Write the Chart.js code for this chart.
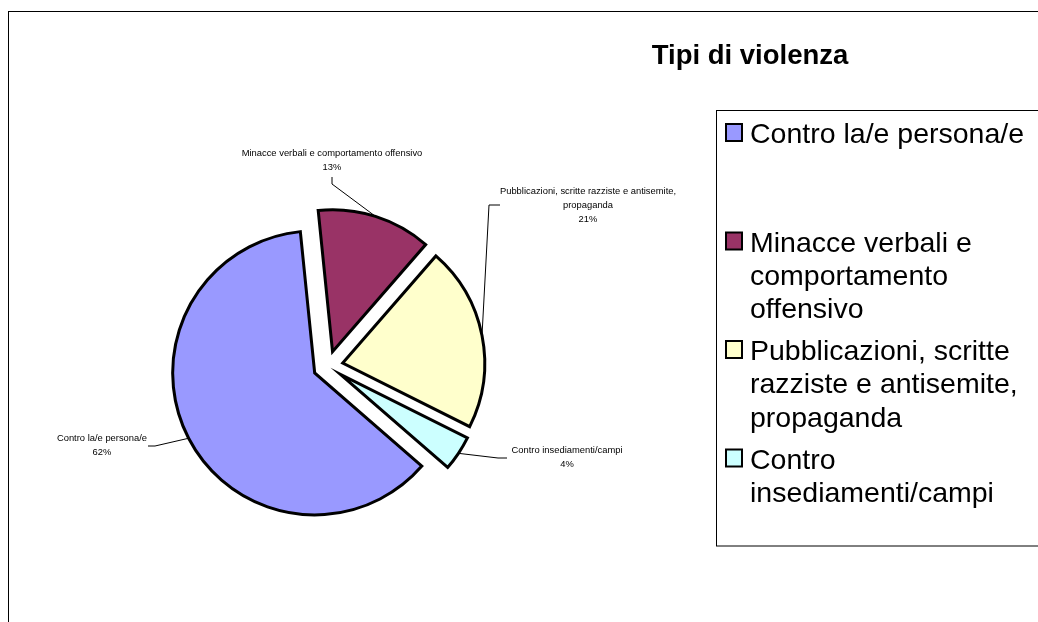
<!DOCTYPE html>
<html lang="it">
<head>
    <meta charset="UTF-8">
    <title>Tipi di violenza</title>
    <style>
        html, body { margin: 0; padding: 0; background: #fff; }
        #wrap { position: relative; width: 1038px; height: 622px; }
    </style>
</head>
<body>
    <div id="wrap"><canvas id="pieChart"></canvas></div>

    <script src="https://cdn.jsdelivr.net/npm/chart.js"></script>
    <script>
        const chartTitle = 'Tipi di violenza';
        const categories = [
            'Contro la/e persona/e',
            'Minacce verbali e comportamento offensivo',
            'Pubblicazioni, scritte razziste e antisemite, propaganda',
            'Contro insediamenti/campi'
        ];
        const shares = [62, 13, 21, 4];
        const sliceColors = ['#9999FF', '#993366', '#FFFFCC', '#CCFFFF'];

        const FONT = "'Liberation Sans', Arial, sans-serif";
        const explode = 15;   // how far each slice is pulled out, px

        // where each data label sits: text centre, then leader start + elbow
        const labelPos = [
            { x: 102, y: 438,   lead: [[148, 446], [155, 446]] },
            { x: 332, y: 153,   lead: [[332, 177], [332, 184]] },
            { x: 588, y: 191.5, lead: [[500, 205], [489, 205]] },
            { x: 567, y: 450,   lead: [[507, 458], [498, 458]] }
        ];

        function wrapText(ctx, text, maxW) {
            const words = text.split(' ');
            const lines = [];
            let cur = '';
            words.forEach(w => {
                const test = cur ? cur + ' ' + w : w;
                if (cur && ctx.measureText(test).width > maxW) {
                    lines.push(cur);
                    cur = w;
                } else {
                    cur = test;
                }
            });
            if (cur) lines.push(cur);
            return lines;
        }

        // Chart.js "offset" also grows the radius of big slices, so push them out by hand
        const explodedPie = {
            id: 'explodedPie',
            beforeDatasetDraw(chart, args) {
                const ctx = chart.ctx;
                args.meta.data.forEach(arc => {
                    const mid = (arc.startAngle + arc.endAngle) / 2;
                    ctx.save();
                    ctx.translate(Math.cos(mid) * explode, Math.sin(mid) * explode);
                    arc.draw(ctx);
                    ctx.restore();
                });
                return false;
            }
        };

        const sliceLabels = {
            id: 'sliceLabels',
            afterDatasetsDraw(chart) {
                const ctx = chart.ctx;
                const arcs = chart.getDatasetMeta(0).data;
                const total = shares.reduce((a, b) => a + b, 0);
                ctx.save();
                ctx.font = '9.4px ' + FONT;
                ctx.fillStyle = '#000';
                ctx.strokeStyle = '#000';
                ctx.lineWidth = 1;
                ctx.textAlign = 'center';
                ctx.textBaseline = 'middle';
                arcs.forEach((arc, i) => {
                    const p = labelPos[i];
                    const lines = wrapText(ctx, categories[i], 195);
                    lines.push(Math.round(shares[i] / total * 100) + '%');
                    lines.forEach((t, k) => ctx.fillText(t, p.x, p.y + k * 14.2));

                    const mid = (arc.startAngle + arc.endAngle) / 2;
                    const r = arc.outerRadius + explode;
                    ctx.beginPath();
                    ctx.moveTo(p.lead[0][0], p.lead[0][1]);
                    ctx.lineTo(p.lead[1][0], p.lead[1][1]);
                    ctx.lineTo(arc.x + Math.cos(mid) * r, arc.y + Math.sin(mid) * r);
                    ctx.stroke();
                });
                ctx.restore();
            }
        };

        // frame, title and the boxed legend on the right
        const sheetDecor = {
            id: 'sheetDecor',
            afterDraw(chart) {
                const ctx = chart.ctx;
                ctx.save();
                ctx.strokeStyle = '#000';
                ctx.lineWidth = 1;
                ctx.strokeRect(8.5, 11.5, 1200, 800);

                ctx.fillStyle = '#000';
                ctx.font = 'bold 27.5px ' + FONT;
                ctx.textAlign = 'center';
                ctx.textBaseline = 'alphabetic';
                ctx.fillText(chartTitle, 750, 64);

                ctx.strokeRect(716.5, 110.5, 500, 435.5);

                ctx.font = '28.5px ' + FONT;
                ctx.textAlign = 'left';
                categories.forEach((label, i) => {
                    const base = 143 + i * 108.5;
                    ctx.fillStyle = sliceColors[i];
                    ctx.fillRect(726, base - 19, 16, 17);
                    ctx.lineWidth = 2;
                    ctx.strokeRect(726, base - 19, 16, 17);
                    ctx.fillStyle = '#000';
                    wrapText(ctx, label, 285).forEach((t, k) => {
                        ctx.fillText(t, 750, base + k * 33.3);
                    });
                });
                ctx.restore();
            }
        };

        const ctx = document.getElementById('pieChart').getContext('2d');
        const pieChart = new Chart(ctx, {
            type: 'pie',
            data: {
                labels: categories,
                datasets: [{
                    data: shares,
                    backgroundColor: sliceColors,
                    borderColor: '#000',
                    borderWidth: 3,
                    hoverBorderWidth: 3,
                    borderJoinStyle: 'miter'
                }]
            },
            options: {
                responsive: true,
                maintainAspectRatio: false,
                animation: false,
                rotation: 131,
                radius: 142,
                layout: {
                    padding: { left: 100, right: 482, top: 180, bottom: 70 }
                },
                plugins: {
                    legend: { display: false },
                    title: { display: false },
                    tooltip: { enabled: false }
                }
            },
            plugins: [explodedPie, sliceLabels, sheetDecor]
        });
    </script>
</body>
</html>
